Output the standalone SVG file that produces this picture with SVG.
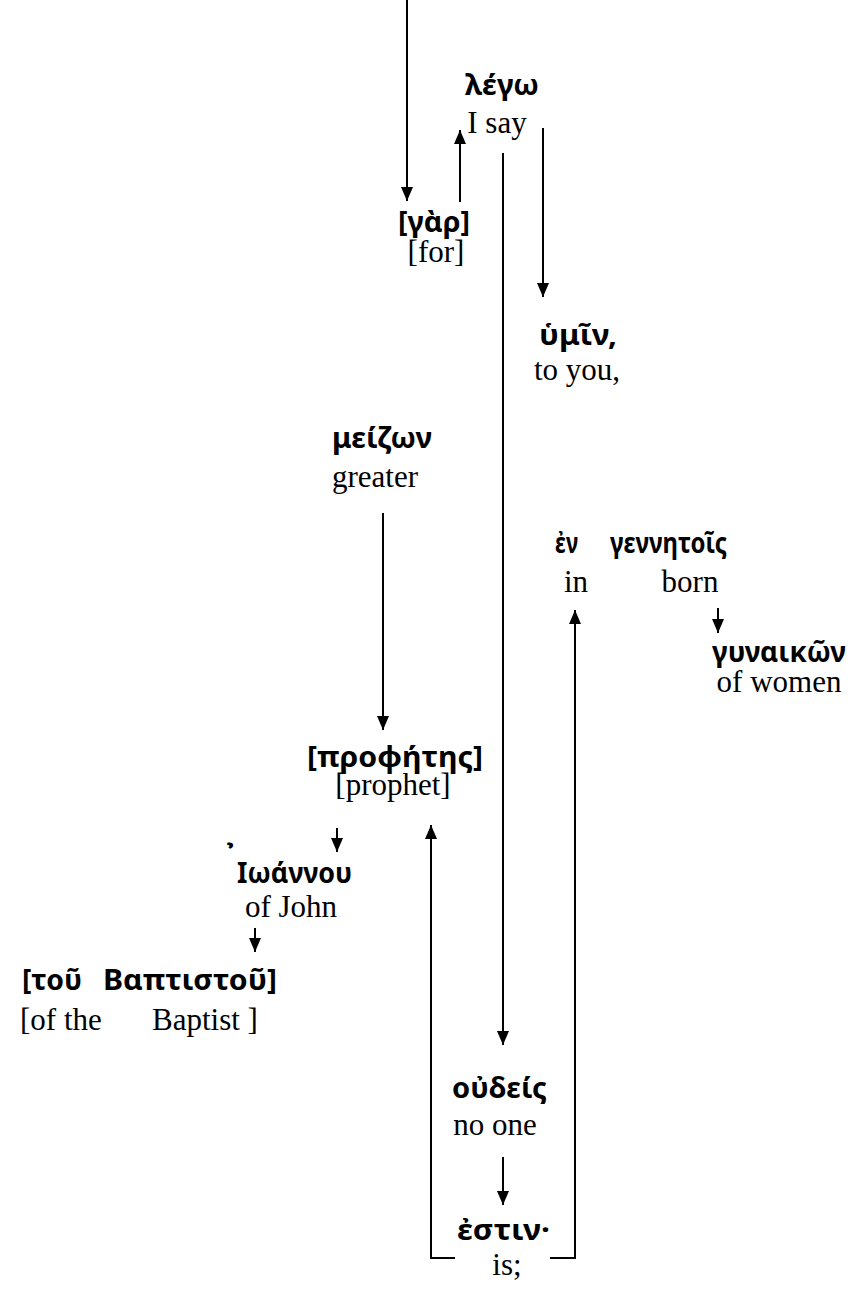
<svg xmlns="http://www.w3.org/2000/svg" width="854" height="1292" viewBox="0 0 854 1292">
<defs>
<marker id="ah" markerWidth="14" markerHeight="12" refX="14" refY="6" orient="auto" markerUnits="userSpaceOnUse" viewBox="0 0 14 12">
<path d="M0,0 L14,6 L0,12 Z" fill="#000"/>
</marker>
<style>
.gk{font-family:"Noto Sans","DejaVu Sans",sans-serif;font-weight:bold;font-size:29px;fill:#000}
.en{font-family:"Liberation Serif","Times New Roman",serif;font-size:31px;fill:#000}
.ar{stroke:#000;stroke-width:2;fill:none;marker-end:url(#ah)}
</style>
</defs>
<rect width="854" height="1292" fill="#fff"/>
<g id="connectors">
<line class="ar" x1="407" y1="0" x2="407" y2="201"/>
<line class="ar" x1="460" y1="202" x2="460" y2="130"/>
<line class="ar" x1="503" y1="153" x2="503" y2="1045"/>
<line class="ar" x1="543" y1="128" x2="543" y2="297"/>
<line class="ar" x1="383" y1="513" x2="383" y2="730"/>
<polyline class="ar" points="550,1258 575,1258 575,610"/>
<line class="ar" x1="718" y1="608" x2="718" y2="633"/>
<line class="ar" x1="337" y1="828" x2="337" y2="852"/>
<polyline class="ar" points="455,1258 431,1258 431,825"/>
<line class="ar" x1="255" y1="928" x2="255" y2="952"/>
<line class="ar" x1="503" y1="1157" x2="503" y2="1205"/>
</g>
<g id="lego">
<text class="gk" x="465" y="95" textLength="74" lengthAdjust="spacingAndGlyphs">λέγω</text>
<text class="en" x="497" y="133" text-anchor="middle">I say</text>
</g>
<g id="gar">
<text class="gk" x="398" y="232" textLength="72" lengthAdjust="spacingAndGlyphs">[γὰρ]</text>
<text class="en" x="436" y="262" text-anchor="middle">[for]</text>
</g>
<g id="hymin">
<text class="gk" x="539" y="345" textLength="78" lengthAdjust="spacingAndGlyphs">ὑμῖν,</text>
<text class="en" x="577" y="380" text-anchor="middle">to you,</text>
</g>
<g id="meizon">
<text class="gk" x="332" y="448" textLength="100" lengthAdjust="spacingAndGlyphs">μείζων</text>
<text class="en" x="375" y="487" text-anchor="middle">greater</text>
</g>
<g id="en-gennetois">
<text class="gk" x="555" y="553" textLength="23" lengthAdjust="spacingAndGlyphs">ἐν</text>
<text class="gk" x="610" y="553" textLength="117" lengthAdjust="spacingAndGlyphs">γεννητοῖς</text>
<text class="en" x="576" y="592" text-anchor="middle">in</text>
<text class="en" x="690" y="592" text-anchor="middle">born</text>
</g>
<g id="gynaikon">
<text class="gk" x="712" y="662" textLength="134" lengthAdjust="spacingAndGlyphs">γυναικῶν</text>
<text class="en" x="779" y="692" text-anchor="middle">of women</text>
</g>
<g id="prophetes">
<text class="gk" x="307" y="767" textLength="176" lengthAdjust="spacingAndGlyphs">[προφήτης]</text>
<text class="en" x="393" y="795" text-anchor="middle">[prophet]</text>
</g>
<g id="ioannou">
<text class="gk" x="226" y="870" style="font-size:36px">᾿</text>
<text class="gk" x="237" y="883" textLength="115" lengthAdjust="spacingAndGlyphs">Ιωάννου</text>
<text class="en" x="291" y="917" text-anchor="middle">of John</text>
</g>
<g id="baptistou">
<text class="gk" x="22" y="990" textLength="60" lengthAdjust="spacingAndGlyphs">[τοῦ</text>
<text class="gk" x="103" y="990" textLength="174" lengthAdjust="spacingAndGlyphs">Βαπτιστοῦ]</text>
<text class="en" x="20" y="1030">[of the</text>
<text class="en" x="152" y="1030">Baptist ]</text>
</g>
<g id="oudeis">
<text class="gk" x="452" y="1098" textLength="95" lengthAdjust="spacingAndGlyphs">οὐδείς</text>
<text class="en" x="495" y="1135" text-anchor="middle">no one</text>
</g>
<g id="estin">
<text class="gk" x="457" y="1240" textLength="93" lengthAdjust="spacingAndGlyphs">ἐστιν·</text>
<text class="en" x="507" y="1275" text-anchor="middle">is;</text>
</g>
</svg>
